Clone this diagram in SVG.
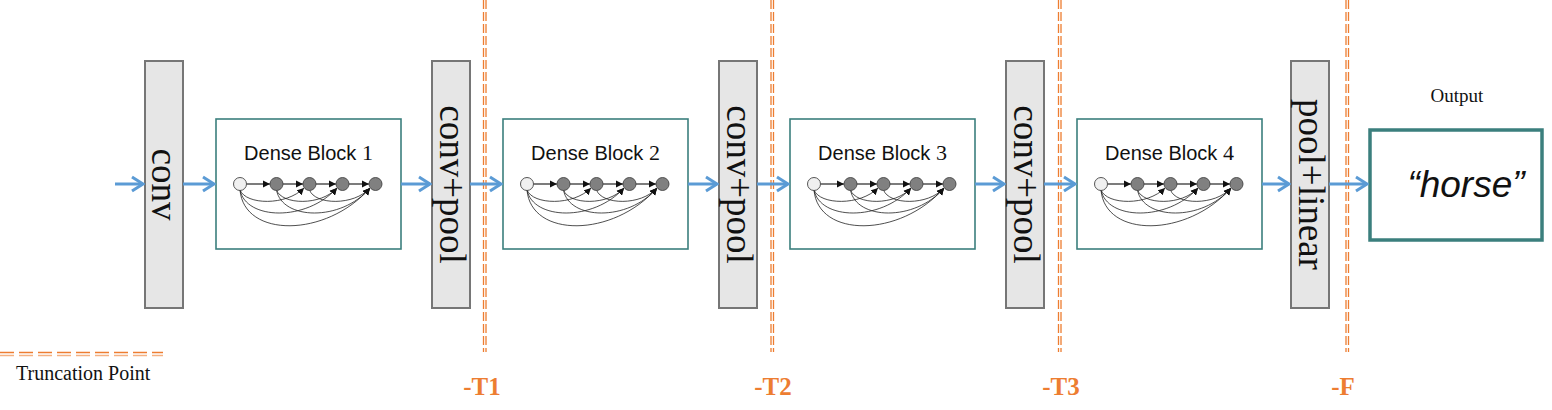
<svg xmlns="http://www.w3.org/2000/svg" xmlns:xlink="http://www.w3.org/1999/xlink" width="1552" height="410" viewBox="0 0 1552 410">
<style>
.bg{fill:#ffffff}
.layer{fill:#e6e6e6;stroke:#767676;stroke-width:2}
.ltxt{font-family:"Liberation Serif","Times New Roman",serif;font-size:37px;fill:#111}
.block{fill:#ffffff;stroke:#3b7f7d;stroke-width:1.6}
.btxt{font-family:"Liberation Sans",Arial,sans-serif;font-size:20px;fill:#111}
.bnum{font-family:"Liberation Serif","Times New Roman",serif;font-size:22px}
.flow{stroke:#5b9bd5;stroke-width:3;fill:none}
.trunc{stroke:#ed7d31;stroke-width:1.3;stroke-dasharray:9 3;fill:none}
.trunch{stroke:#ed7d31;stroke-width:1.6;stroke-dasharray:14 5;fill:none}
.tlab{font-family:"Liberation Serif","Times New Roman",serif;font-weight:bold;font-size:25px;fill:#ed7d31}
.serif{font-family:"Liberation Serif","Times New Roman",serif;fill:#111}
.edge{stroke:#6e6e6e;stroke-width:1.8;fill:none}
.arc{stroke:#222;stroke-width:0.8;fill:none}
.n0{fill:#f0f0f0;stroke:#444;stroke-width:0.9}
.n1{fill:#808080;stroke:#444;stroke-width:0.9}
</style>
<defs>
<marker id="blueHead" markerUnits="userSpaceOnUse" viewBox="-13 -9 15 18" refX="0" refY="0" markerWidth="15" markerHeight="18" orient="auto">
<path d="M-11,-7 L0,0 L-11,7" fill="none" stroke="#5b9bd5" stroke-width="3"/>
</marker>
<marker id="blkHead" markerUnits="userSpaceOnUse" viewBox="-7 -4 8 8" refX="0" refY="0" markerWidth="8" markerHeight="8" orient="auto">
<path d="M-7,-3.5 L0,0 L-7,3.5 Z" fill="#111"/>
</marker>
<g id="dbgraph">
<path class="arc" d="M24,190 C30,205 70,206 88,188" marker-end="url(#blkHead)"/>
<path class="arc" d="M24,190 C30,220 90,222 121,188" marker-end="url(#blkHead)"/>
<path class="arc" d="M24,190 C28,238 110,238 154,188" marker-end="url(#blkHead)"/>
<path class="arc" d="M60.5,190 C66,205 105,206 121,188" marker-end="url(#blkHead)"/>
<path class="arc" d="M60.5,190 C66,220 125,222 154,188" marker-end="url(#blkHead)"/>
<path class="arc" d="M93.5,190 C99,205 138,206 154,188" marker-end="url(#blkHead)"/>
<line class="edge" x1="30.5" y1="184" x2="54" y2="184" marker-end="url(#blkHead)"/>
<line class="edge" x1="67" y1="184" x2="87" y2="184" marker-end="url(#blkHead)"/>
<line class="edge" x1="100" y1="184" x2="120" y2="184" marker-end="url(#blkHead)"/>
<line class="edge" x1="133" y1="184" x2="153" y2="184" marker-end="url(#blkHead)"/>
<circle class="n0" cx="24" cy="184" r="6.5"/>
<circle class="n1" cx="60.5" cy="184" r="6.5"/>
<circle class="n1" cx="93.5" cy="184" r="6.5"/>
<circle class="n1" cx="126.5" cy="184" r="6.5"/>
<circle class="n1" cx="159.5" cy="184" r="6.5"/>
</g>
</defs>
<rect class="bg" x="0" y="0" width="1552" height="410"/>

<g id="truncation-lines">
<line class="trunc" x1="483.5" y1="0" x2="483.5" y2="352"/>
<line class="trunc" x1="486" y1="0" x2="486" y2="352"/>
<line class="trunc" x1="771" y1="0" x2="771" y2="352"/>
<line class="trunc" x1="773.5" y1="0" x2="773.5" y2="352"/>
<line class="trunc" x1="1058.5" y1="0" x2="1058.5" y2="352"/>
<line class="trunc" x1="1061" y1="0" x2="1061" y2="352"/>
<line class="trunc" x1="1346" y1="0" x2="1346" y2="352"/>
<line class="trunc" x1="1348.5" y1="0" x2="1348.5" y2="352"/>
</g>

<g id="conv">
<rect class="layer" x="145" y="61" width="38" height="247"/>
<text class="ltxt" transform="translate(152,184.5) rotate(90)" text-anchor="middle">conv</text>
</g>

<g id="dense1">
<rect class="block" x="216" y="119" width="185" height="130"/>
<text class="btxt" x="308.5" y="160" text-anchor="middle">Dense Block <tspan class="bnum">1</tspan></text>
<use xlink:href="#dbgraph" href="#dbgraph" x="216" y="0"/>
</g>

<g id="convpool1">
<rect class="layer" x="432" y="61" width="38" height="247"/>
<text class="ltxt" transform="translate(440,184.5) rotate(90)" text-anchor="middle">conv+pool</text>
</g>

<g id="dense2">
<rect class="block" x="503" y="119" width="185" height="130"/>
<text class="btxt" x="595.5" y="160" text-anchor="middle">Dense Block <tspan class="bnum">2</tspan></text>
<use xlink:href="#dbgraph" href="#dbgraph" x="503" y="0"/>
</g>

<g id="convpool2">
<rect class="layer" x="719" y="61" width="38" height="247"/>
<text class="ltxt" transform="translate(727,184.5) rotate(90)" text-anchor="middle">conv+pool</text>
</g>

<g id="dense3">
<rect class="block" x="790" y="119" width="185" height="130"/>
<text class="btxt" x="882.5" y="160" text-anchor="middle">Dense Block <tspan class="bnum">3</tspan></text>
<use xlink:href="#dbgraph" href="#dbgraph" x="790" y="0"/>
</g>

<g id="convpool3">
<rect class="layer" x="1006" y="61" width="38" height="247"/>
<text class="ltxt" transform="translate(1014,184.5) rotate(90)" text-anchor="middle">conv+pool</text>
</g>

<g id="dense4">
<rect class="block" x="1077" y="119" width="185" height="130"/>
<text class="btxt" x="1169.5" y="160" text-anchor="middle">Dense Block <tspan class="bnum">4</tspan></text>
<use xlink:href="#dbgraph" href="#dbgraph" x="1077" y="0"/>
</g>

<g id="poollinear">
<rect class="layer" x="1291" y="61" width="38" height="247"/>
<text class="ltxt" transform="translate(1299,184.5) rotate(90)" text-anchor="middle">pool+linear</text>
</g>

<g id="output">
<text class="serif" x="1457" y="102" font-size="19" text-anchor="middle">Output</text>
<rect x="1370" y="130" width="172" height="110" fill="#ffffff" stroke="#3b7f7d" stroke-width="3.5"/>
<text x="1466" y="197" text-anchor="middle" font-family="'Liberation Sans',Arial,sans-serif" font-style="italic" font-size="37" fill="#111">“horse”</text>
</g>

<g id="connectors">
<line class="flow" x1="115" y1="184" x2="143" y2="184" marker-end="url(#blueHead)"/>
<line class="flow" x1="183" y1="184" x2="214" y2="184" marker-end="url(#blueHead)"/>
<line class="flow" x1="401" y1="184" x2="430" y2="184" marker-end="url(#blueHead)"/>
<line class="flow" x1="470" y1="184" x2="501" y2="184" marker-end="url(#blueHead)"/>
<line class="flow" x1="688" y1="184" x2="717" y2="184" marker-end="url(#blueHead)"/>
<line class="flow" x1="757" y1="184" x2="788" y2="184" marker-end="url(#blueHead)"/>
<line class="flow" x1="975" y1="184" x2="1004" y2="184" marker-end="url(#blueHead)"/>
<line class="flow" x1="1044" y1="184" x2="1075" y2="184" marker-end="url(#blueHead)"/>
<line class="flow" x1="1262" y1="184" x2="1289" y2="184" marker-end="url(#blueHead)"/>
<line class="flow" x1="1329" y1="184" x2="1367" y2="184" marker-end="url(#blueHead)"/>
</g>

<g id="truncation-labels">
<text class="tlab" x="482" y="395" text-anchor="middle">-T1</text>
<text class="tlab" x="773" y="395" text-anchor="middle">-T2</text>
<text class="tlab" x="1061" y="395" text-anchor="middle">-T3</text>
<text class="tlab" x="1343" y="395" text-anchor="middle">-F</text>
</g>

<g id="legend">
<line class="trunch" x1="0" y1="352.5" x2="163" y2="352.5"/>
<line class="trunch" x1="0" y1="355.5" x2="163" y2="355.5" stroke-opacity="0.6"/>
<text class="serif" x="16" y="380" font-size="20">Truncation Point</text>
</g>
</svg>
